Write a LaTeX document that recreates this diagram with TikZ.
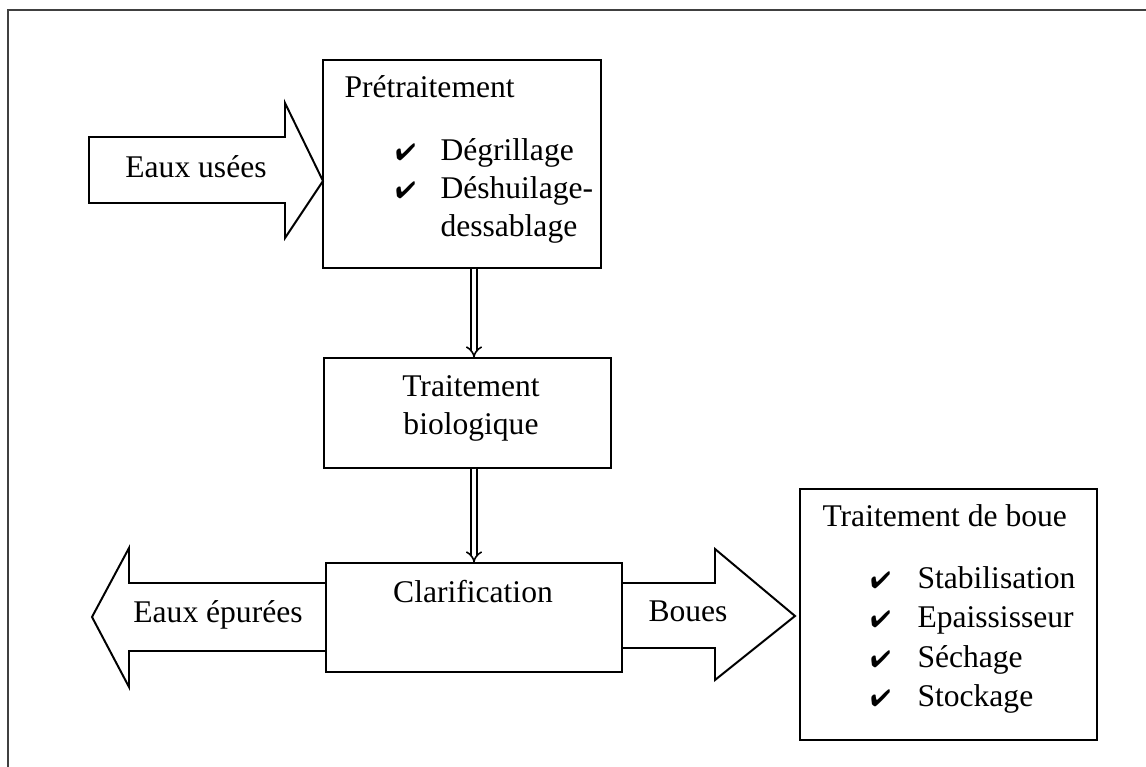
\documentclass[tikz,border=0pt]{standalone}
\usepackage{fontspec}
\setmainfont{Liberation Serif}
\usepackage{pifont}
\usetikzlibrary{arrows.meta,fit}

\tikzset{
    boite/.style={draw, line width=0.5pt, inner sep=0pt},
    bloc/.style={line width=0.75pt, line join=miter},
    texte/.style={inner sep=0pt, anchor=base},
    liste/.style={inner sep=0pt, anchor=base west},
    fleche/.style={double, double distance=1.5pt, line width=0.6pt, -{Implies}},
}
\newcommand{\coche}{{\fontsize{9}{9}\selectfont\ding{52}}}

\begin{document}
\begin{tikzpicture}[x=0.38pt, y=-0.38pt, font=\fontsize{12}{14.6}\selectfont]
    \useasboundingbox (0,0) rectangle (1146,767);

    % Cadre (bord haut et bord gauche)
    \draw[line width=0.7pt, black!75] (8,767) -- (8,10) -- (1146,10);

    % Les boîtes
    \node[boite, fit={(323,60) (601,268)}] (pre) {};
    \node[boite, fit={(324,358) (611,468)}] (bio) {};
    \node[boite, fit={(326,563) (622,672)}] (clar) {};
    \node[boite, fit={(800,489) (1097,740)}] (boue) {};

    % Textes des boîtes
    \node[liste] (tpre) at (344,98) {Prétraitement};
    \node[liste] (c1) at (395,161) {\coche};
    \node[liste] (degr) at (440,161) {Dégrillage};
    \node[liste] (c2) at (395,199) {\coche};
    \node[liste] (desh) at (440,199) {Déshuilage-};
    \node[liste] (dess) at (440,237) {dessablage};
    \node[texte] (tbio1) at (471,397) {Traitement};
    \node[texte] (tbio2) at (471,435) {biologique};
    \node[texte] (tclar) at (473,603) {Clarification};
    \node[liste] (tboue) at (822,527) {Traitement de boue};
    \foreach \t/\y [count=\i] in {Stabilisation/589, Epaississeur/628, Séchage/668, Stockage/707} {
        \node[liste] (cb\i) at (870,\y) {\coche};
        \node[liste] (b\i) at (917,\y) {\t};
    }

    % Grosses flèches (entrée et sorties)
    \draw[bloc] (89,137) -- (285,137) -- (285,103) -- (323,181) -- (285,238) -- (285,203) -- (89,203) -- cycle;
    \node[texte] (tusees) at (196,178) {Eaux usées};
    \draw[bloc] (326,583) -- (129,583) -- (129,548) -- (92,617) -- (129,687) -- (129,651) -- (326,651);
    \node[texte] (tepurees) at (218,623) {Eaux épurées};
    \draw[bloc] (622,583) -- (715,583) -- (715,549) -- (795,616) -- (715,680) -- (715,648) -- (622,648);
    \node[texte] (tboues) at (688,622) {Boues};

    % Flèches doubles entre les étapes
    \draw[fleche] (pre.south -| clar) -- (bio.north -| clar);
    \draw[fleche] (bio.south -| clar) -- (clar.north);

\end{tikzpicture}
\end{document}
